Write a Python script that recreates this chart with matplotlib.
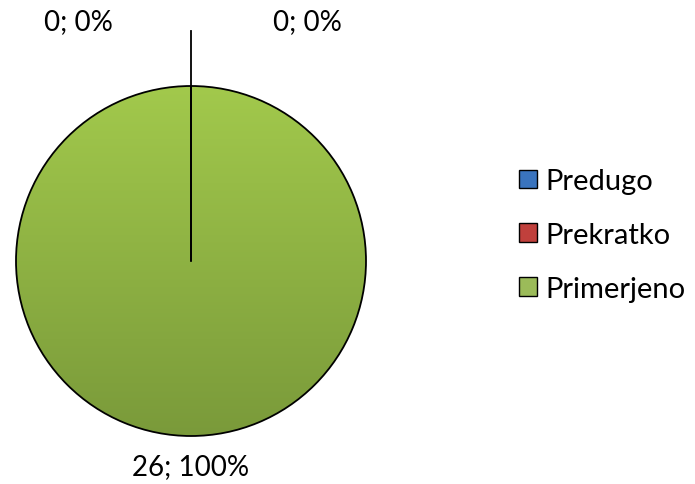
import matplotlib
matplotlib.use("Agg")
import matplotlib.pyplot as plt
import numpy as np
from matplotlib.patches import Patch
from matplotlib.colors import LinearSegmentedColormap

categories = ["Predugo", "Prekratko", "Primerjeno"]
values = [0, 0, 26]
colors = ["#3A74BE", "#C0403C", "#9BBB59"]

plt.rcParams['font.family'] = ['Lato', 'DejaVu Sans']

W, H = 695, 485
fig = plt.figure(figsize=(W/100, H/100), dpi=100)
cx, cy, r = 191, 262, 175
ax = fig.add_axes([(cx-r)/W, (H-cy-r)/H, 2*r/W, 2*r/H])
wedges, _ = ax.pie(values, colors=colors, startangle=90, counterclock=False,
                   radius=1, wedgeprops=dict(edgecolor="black", linewidth=1.3))
ax.set_xlim(-1, 1)
ax.set_ylim(-1, 1)
ax.set_aspect("equal")
ax.axis("off")

# gradient fill for the full wedge
cmap = LinearSegmentedColormap.from_list("g", ["#7A9A3A", "#A2C94C"])
grad = np.linspace(0, 1, 256).reshape(-1, 1)
for w, v in zip(wedges, values):
    if v > 0:
        w.set_facecolor("none")
        im = ax.imshow(grad, extent=[-1, 1, -1, 1], origin="lower", cmap=cmap,
                       aspect="auto", zorder=0)
        im.set_clip_path(w)

# leader line from centre upward (zero-size wedges)
ax.plot([0, 0], [0, (cy-32)/r], color="black", lw=1.3, clip_on=False, zorder=5)

total = sum(values)
labels = [f"{v}; {round(100*v/total)}%" for v in values]
pos = [(78, 22), (307, 22), (191, 467)]
for lab, (x, y) in zip(labels, pos):
    fig.text(x/W, 1-y/H, lab, ha="center", va="center", fontsize=20)

handles = [Patch(facecolor=c, edgecolor="black", linewidth=1.0) for c in colors]
fig.legend(handles, categories, loc="center left", bbox_to_anchor=(519/W, 1-236/H),
           frameon=False, fontsize=21, handlelength=0.62, handleheight=0.62,
           handletextpad=0.3, labelspacing=0.95, borderaxespad=0, borderpad=0)

fig.savefig("out.png", dpi=100)
